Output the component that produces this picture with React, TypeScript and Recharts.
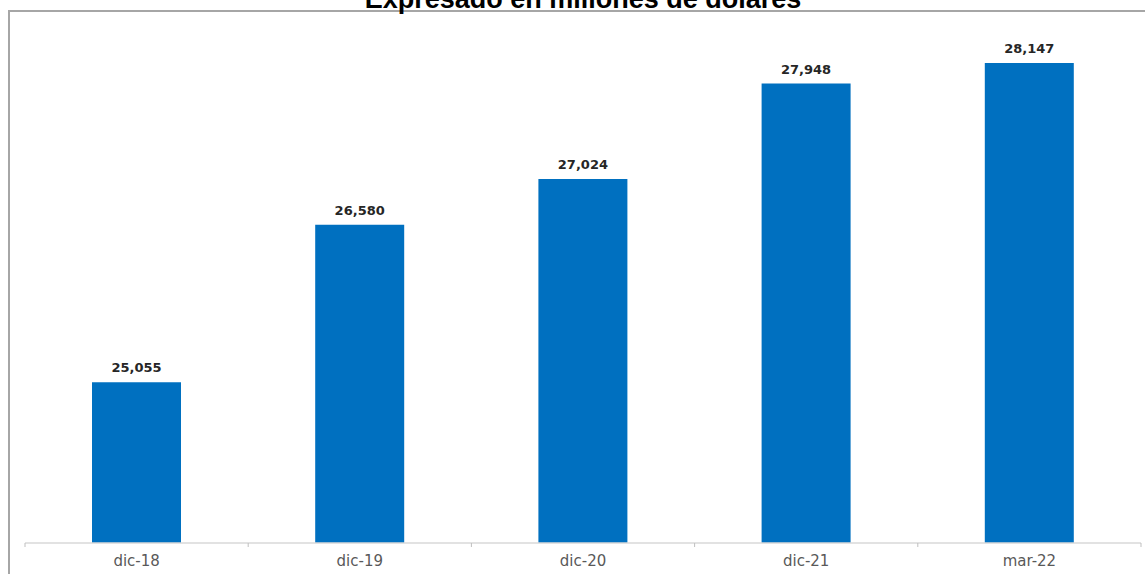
import { BarChart, Bar, XAxis, YAxis, LabelList } from 'recharts';

const periods = ['dic-18', 'dic-19', 'dic-20', 'dic-21', 'mar-22'];
const amounts = [25055, 26580, 27024, 27948, 28147];
const yDomain = [23500, 28500];
const title = 'Expresado en millones de dólares';

const data = periods.map((p, i) => ({ period: p, value: amounts[i] }));

const fmt = (v: number) => v.toLocaleString('en-US');

// tick text plus the little boundary marks between categories
function PeriodTick(props: any) {
  const { x, y, payload, index, visibleTicksCount } = props;
  const half = payload.offset || 0;
  const isLast = index === visibleTicksCount - 1;
  return (
    <g>
      <line x1={x - half} x2={x - half} y1={y} y2={y + 4} stroke="#bfbfbf" strokeWidth={1} />
      {isLast && (
        <line x1={x + half} x2={x + half} y1={y} y2={y + 4} stroke="#bfbfbf" strokeWidth={1} />
      )}
      <text
        x={x}
        y={y + 23}
        textAnchor="middle"
        fill="#595959"
        style={{ fontFamily: 'DejaVu Sans', fontSize: 15 }}
      >
        {payload.value}
      </text>
    </g>
  );
}

export default function App() {
  return (
    <div
      style={{
        position: 'absolute',
        left: 0,
        top: 0,
        width: 1145,
        height: 574,
        overflow: 'hidden',
        background: '#fff',
      }}
    >
      <div
        style={{
          position: 'absolute',
          left: 8,
          top: 10,
          width: 1145,
          height: 600,
          borderLeft: '2px solid #a6a6a6',
          borderTop: '2px solid #a6a6a6',
        }}
      />
      <svg width={1145} height={30} style={{ position: 'absolute', left: 0, top: 0 }}>
        <text
          x={583}
          y={8}
          textAnchor="middle"
          fill="#000"
          style={{ fontFamily: 'Liberation Sans', fontWeight: 'bold', fontSize: 27 }}
        >
          {title}
        </text>
      </svg>
      <div style={{ position: 'absolute', left: 0, top: 0 }}>
        <BarChart
          width={1145}
          height={574}
          data={data}
          margin={{ top: 26.5, right: 4, bottom: 1, left: 25 }}
        >
          <XAxis
            dataKey="period"
            height={30}
            tickLine={false}
            tickSize={0}
            tickMargin={0}
            axisLine={{ stroke: '#d9d9d9', strokeWidth: 1.5 }}
            tick={<PeriodTick />}
            interval={0}
          />
          <YAxis hide domain={yDomain} allowDataOverflow />
          <Bar dataKey="value" fill="#0070c0" barSize={89} isAnimationActive={false}>
            <LabelList
              dataKey="value"
              position="top"
              offset={10}
              formatter={(v: any) => fmt(Number(v))}
              style={{ fontFamily: 'DejaVu Sans', fontWeight: 'bold', fontSize: 13, fill: '#262626' }}
            />
          </Bar>
        </BarChart>
      </div>
    </div>
  );
}
